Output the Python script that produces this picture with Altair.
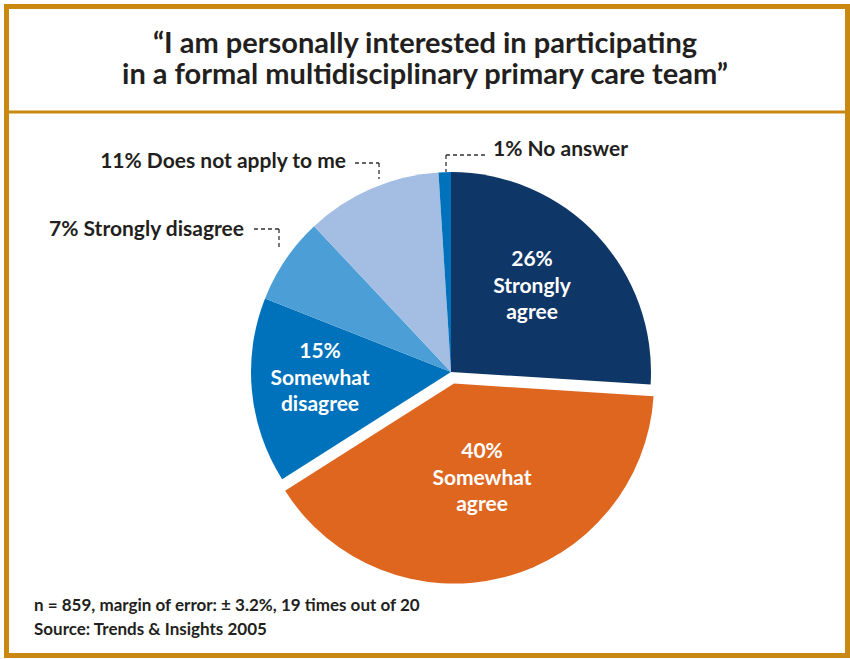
import altair as alt
import pandas as pd
import numpy as np

# ---- data ----
categories = ["Strongly agree", "Somewhat agree", "Somewhat disagree",
              "Strongly disagree", "Does not apply to me", "No answer"]
values = [26, 40, 15, 7, 11, 1]
colors = ["#0e3667", "#de661f", "#0071bb", "#4b9fd6", "#a4bee3", "#0071bb"]
explode = [0, 12, 0, 0, 0, 0]

title_lines = ["\u201cI am personally interested in participating",
               "in a formal multidisciplinary primary care team\u201d"]
notes = ["n = 859, margin of error: \u00b1 3.2%, 19 times out of 20",
         "Source: Trends & Insights 2005"]

# ---- layout constants ----
W, H = 850, 659
CX, CY, R = 451, 372, 200
GOLD = "#c9880f"
INK = "#231f20"

# pie geometry from values
vals = np.array(values, dtype=float)
frac = vals / vals.sum()
end = np.cumsum(frac) * 2 * np.pi
start = end - frac * 2 * np.pi
mid = (start + end) / 2
pie_df = pd.DataFrame({
    "category": categories, "value": values, "color": colors,
    "start": start, "end": end,
    "px": CX + np.array(explode) * np.sin(mid),
    "py": CY - np.array(explode) * np.cos(mid),
})

# inside labels (big slices): anchor x, first baseline y
inside_anchor = {"Strongly agree": (532, 266), "Somewhat agree": (482, 458),
                 "Somewhat disagree": (320, 358)}
rows = []
for c, v in zip(categories, values):
    if c in inside_anchor:
        ax, ay = inside_anchor[c]
        for i, t in enumerate([f"{v}%"] + c.split(" ")):
            rows.append({"text": t, "x": ax, "y": ay + i * 26.5})
inside_df = pd.DataFrame(rows)

# outside labels (small slices)
outside_anchor = {"Does not apply to me": (346, 168, "right"),
                  "Strongly disagree": (244, 236, "right"),
                  "No answer": (493, 156, "left")}
orow = []
for c, v in zip(categories, values):
    if c in outside_anchor:
        ax, ay, al = outside_anchor[c]
        orow.append({"text": f"{v}% {c}", "x": ax, "y": ay, "side": al})
outside_df = pd.DataFrame(orow)

leader_df = pd.DataFrame([
    {"x": 355, "y": 163, "x2": 379, "y2": 163},
    {"x": 379, "y": 163, "x2": 379, "y2": 179},
    {"x": 254, "y": 229, "x2": 279, "y2": 229},
    {"x": 279, "y": 229, "x2": 279, "y2": 250},
    {"x": 446, "y": 155, "x2": 486, "y2": 155},
    {"x": 446, "y": 155, "x2": 446, "y2": 172},
])

title_df = pd.DataFrame({"text": title_lines, "x": [W / 2, W / 2], "y": [53, 84]})
notes_df = pd.DataFrame({"text": notes, "x": [34, 34], "y": [611, 635]})
one = pd.DataFrame({"a": [0]})

X = lambda f: alt.X(f, scale=None, axis=None)
Y = lambda f: alt.Y(f, scale=None, axis=None)

border = alt.Chart(one).mark_rect(fill=None, stroke=GOLD, strokeWidth=5).encode(
    x=alt.value(6.5), x2=alt.value(847.5), y=alt.value(6.5), y2=alt.value(655.5))
hline = alt.Chart(one).mark_rule(color=GOLD, strokeWidth=3).encode(
    x=alt.value(9), x2=alt.value(846), y=alt.value(112))

arcs = alt.Chart(pie_df).mark_arc(radius=R).encode(
    theta=alt.Theta("start:Q", scale=None, stack=None),
    theta2="end:Q",
    x=X("px:Q"), y=Y("py:Q"),
    color=alt.Color("color:N", scale=None),
)

inside = alt.Chart(inside_df).mark_text(
    font="Lato", fontWeight="bold", fontSize=21, color="white",
    align="center", baseline="alphabetic").encode(
    x=X("x:Q"), y=Y("y:Q"), text="text:N")

outside_r = alt.Chart(outside_df[outside_df["side"] == "right"]).mark_text(
    font="Lato", fontWeight="bold", fontSize=21, color=INK,
    align="right", baseline="alphabetic").encode(
    x=X("x:Q"), y=Y("y:Q"), text="text:N")
outside_l = alt.Chart(outside_df[outside_df["side"] == "left"]).mark_text(
    font="Lato", fontWeight="bold", fontSize=21, color=INK,
    align="left", baseline="alphabetic").encode(
    x=X("x:Q"), y=Y("y:Q"), text="text:N")

leaders = alt.Chart(leader_df).mark_rule(
    color="#333333", strokeWidth=1.3, strokeDash=[4, 3]).encode(
    x=X("x:Q"), y=Y("y:Q"), x2="x2:Q", y2="y2:Q")

title = alt.Chart(title_df).mark_text(
    font="Lato", fontWeight="bold", fontSize=29, color=INK,
    align="center", baseline="alphabetic").encode(
    x=X("x:Q"), y=Y("y:Q"), text="text:N")

foot = alt.Chart(notes_df).mark_text(
    font="Lato", fontWeight="bold", fontSize=17, color=INK,
    align="left", baseline="alphabetic").encode(
    x=X("x:Q"), y=Y("y:Q"), text="text:N")

chart = alt.layer(border, hline, arcs, leaders, inside, outside_r, outside_l,
                  title, foot).properties(
    width=W, height=H, autosize=alt.AutoSizeParams(type="none"),
    padding=0, background="white",
).configure_view(stroke=None)

chart.save("out.html", embed_options={"renderer": "svg", "actions": False})
